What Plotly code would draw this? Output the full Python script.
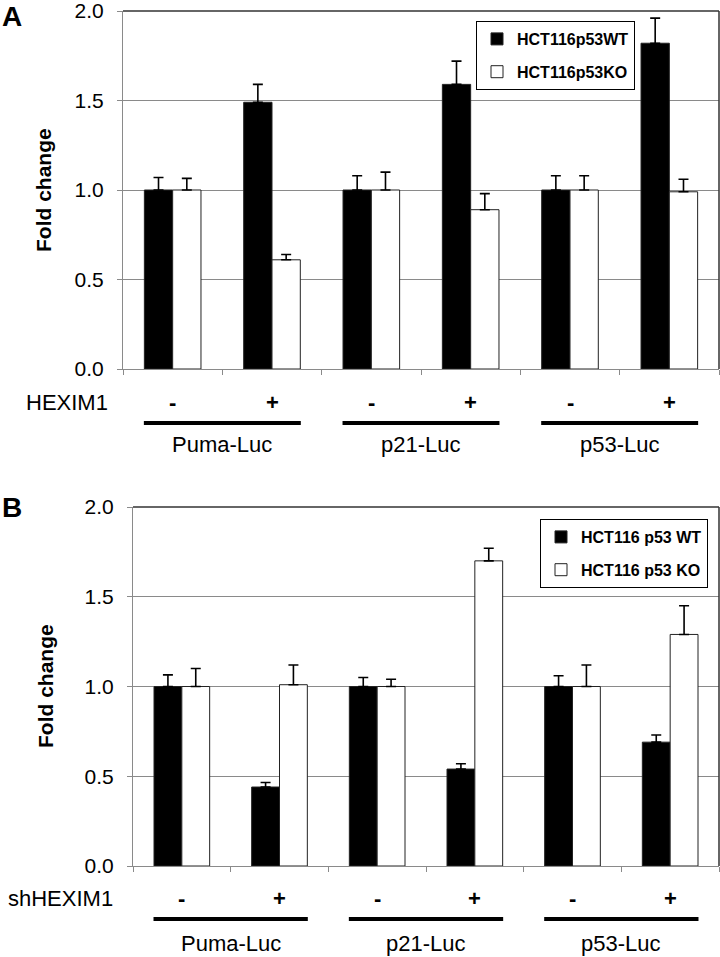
import plotly.graph_objects as go

# ---- data ----
reporters = ["Puma-Luc", "p21-Luc", "p53-Luc"]
treatments = ["-", "+"]
series_names_a = ["HCT116p53WT", "HCT116p53KO"]
series_names_b = ["HCT116 p53 WT", "HCT116 p53 KO"]

a_wt = [1.00, 1.49, 1.00, 1.59, 1.00, 1.82]
a_wt_err = [0.07, 0.10, 0.08, 0.13, 0.08, 0.14]
a_ko = [1.00, 0.61, 1.00, 0.89, 1.00, 0.99]
a_ko_err = [0.065, 0.03, 0.10, 0.09, 0.08, 0.07]

b_wt = [1.00, 0.44, 1.00, 0.54, 1.00, 0.69]
b_wt_err = [0.065, 0.025, 0.05, 0.03, 0.06, 0.04]
b_ko = [1.00, 1.01, 1.00, 1.70, 1.00, 1.29]
b_ko_err = [0.10, 0.11, 0.04, 0.07, 0.12, 0.16]

y_ticks = [0.0, 0.5, 1.0, 1.5, 2.0]

categories = [f"{r} {t}" for r in reporters for t in treatments]
cat_treat = [t for r in reporters for t in treatments]

FONT = "Liberation Sans, Arial, sans-serif"
W, H = 720, 957
GRID = "#8a8a8a"

def px_x(x):
    return x / W

def px_y(y):
    return 1 - y / H

fig = go.Figure()

def add_bars(vals, errs, name, color, xa, ya, legend, group):
    fig.add_trace(go.Bar(
        x=categories, y=vals, name=name,
        marker=dict(color=color, line=dict(color="#222222", width=1)),
        error_y=dict(type="data", array=errs, arrayminus=[0] * len(errs),
                     symmetric=False, color="black", thickness=1.6, width=5),
        xaxis=xa, yaxis=ya, legend=legend, legendgroup=group, showlegend=True,
    ))

add_bars(a_wt, a_wt_err, series_names_a[0], "black", "x", "y", "legend", "a1")
add_bars(a_ko, a_ko_err, series_names_a[1], "white", "x", "y", "legend", "a2")
add_bars(b_wt, b_wt_err, series_names_b[0], "black", "x2", "y2", "legend2", "b1")
add_bars(b_ko, b_ko_err, series_names_b[1], "white", "x2", "y2", "legend2", "b2")

xcommon = dict(type="category", categoryorder="array", categoryarray=categories,
               tickson="boundaries", ticks="outside", ticklen=5, tickcolor=GRID,
               showticklabels=False, showline=True, linecolor=GRID, linewidth=1,
               showgrid=False, zeroline=False, fixedrange=True, automargin=False)
ycommon = dict(range=[0, 2], tickvals=y_ticks, tickformat=".1f", ticks="outside",
               ticklen=5, tickcolor=GRID, showline=True, linecolor=GRID, linewidth=1,
               showgrid=True, gridcolor=GRID, gridwidth=1, zeroline=False,
               tickfont=dict(family=FONT, size=21, color="black"), ticklabelstandoff=9,
               ticklabeloverflow="allow", automargin=False, fixedrange=True)

legend_common = dict(xanchor="left", yanchor="top", bordercolor="black", borderwidth=1,
                     bgcolor="white", itemwidth=30, tracegroupgap=9, traceorder="grouped",
                     font=dict(family=FONT, size=16, color="black", weight="bold"))

fig.update_layout(
    width=W, height=H, margin=dict(l=0, r=0, t=0, b=0, autoexpand=False),
    paper_bgcolor="white", plot_bgcolor="white",
    barmode="group", bargap=0.43, bargroupgap=0,
    font=dict(family=FONT, color="black"),
    xaxis=dict(domain=[px_x(123), px_x(719)], anchor="y", **xcommon),
    yaxis=dict(domain=[px_y(369), px_y(11)], anchor="x", **ycommon),
    xaxis2=dict(domain=[px_x(133), px_x(719)], anchor="y2", **xcommon),
    yaxis2=dict(domain=[px_y(866), px_y(507)], anchor="x2", **ycommon),
    legend=dict(x=px_x(476), y=px_y(21), **legend_common),
    legend2=dict(x=px_x(540), y=px_y(519), **legend_common),
)

shapes = []
annotations = []
panels = [
    dict(xa="x", ya="y", letter="A", letter_y=16, treat_label="HEXIM1", treat_x=24,
         treat_y=402, line_y=423, group_y=445, ytitle_x=43, ymid=190),
    dict(xa="x2", ya="y2", letter="B", letter_y=507, treat_label="shHEXIM1", treat_x=6,
         treat_y=898, line_y=919, group_y=943, ytitle_x=45, ymid=686),
]
for p in panels:
    xa, ya = p["xa"], p["ya"]
    # frame top and right in darker colour
    shapes.append(dict(type="line", xref=f"{xa} domain", yref=f"{ya} domain",
                       x0=0, x1=1, y0=1, y1=1, line=dict(color="#333333", width=1.5)))
    shapes.append(dict(type="line", xref=f"{xa} domain", yref=f"{ya} domain",
                       x0=1, x1=1, y0=0, y1=1, line=dict(color="#333333", width=1.5)))
    # panel letter
    annotations.append(dict(text=f"<b>{p['letter']}</b>", xref="paper", yref="paper",
                            x=0, y=px_y(p["letter_y"]), xanchor="left", yanchor="middle",
                            showarrow=False, font=dict(size=28, family=FONT)))
    # y title
    annotations.append(dict(text="<b>Fold change</b>", xref="paper", yref="paper",
                            x=px_x(p["ytitle_x"]), y=px_y(p["ymid"]), textangle=-90,
                            xanchor="center", yanchor="middle", showarrow=False,
                            font=dict(size=21, family=FONT)))
    # treatment label
    annotations.append(dict(text=p["treat_label"], xref="paper", yref="paper",
                            x=px_x(p["treat_x"]), y=px_y(p["treat_y"]), xanchor="left",
                            yanchor="middle", showarrow=False, font=dict(size=22, family=FONT)))
    # -/+ labels
    for cat, t in zip(categories, cat_treat):
        annotations.append(dict(text=f"<b>{t}</b>", xref=xa, yref="paper", x=cat,
                                y=px_y(p["treat_y"]), xanchor="center", yanchor="middle",
                                showarrow=False, font=dict(size=22, family=FONT)))
    # group lines and labels
    for gi, rep in enumerate(reporters):
        centre = 2 * gi + 0.5
        shapes.append(dict(type="line", xref=xa, yref="paper",
                           x0=centre - 0.79, x1=centre + 0.79,
                           y0=px_y(p["line_y"]), y1=px_y(p["line_y"]),
                           line=dict(color="black", width=4)))
        annotations.append(dict(text=rep, xref=xa, yref="paper", x=centre,
                                y=px_y(p["group_y"]), xanchor="center", yanchor="middle",
                                showarrow=False, font=dict(size=22, family=FONT)))

fig.update_layout(shapes=shapes, annotations=annotations)
fig.write_html("out.html", config={"displayModeBar": False},
               post_script="document.body.style.margin='0';document.body.style.overflow='hidden';")
